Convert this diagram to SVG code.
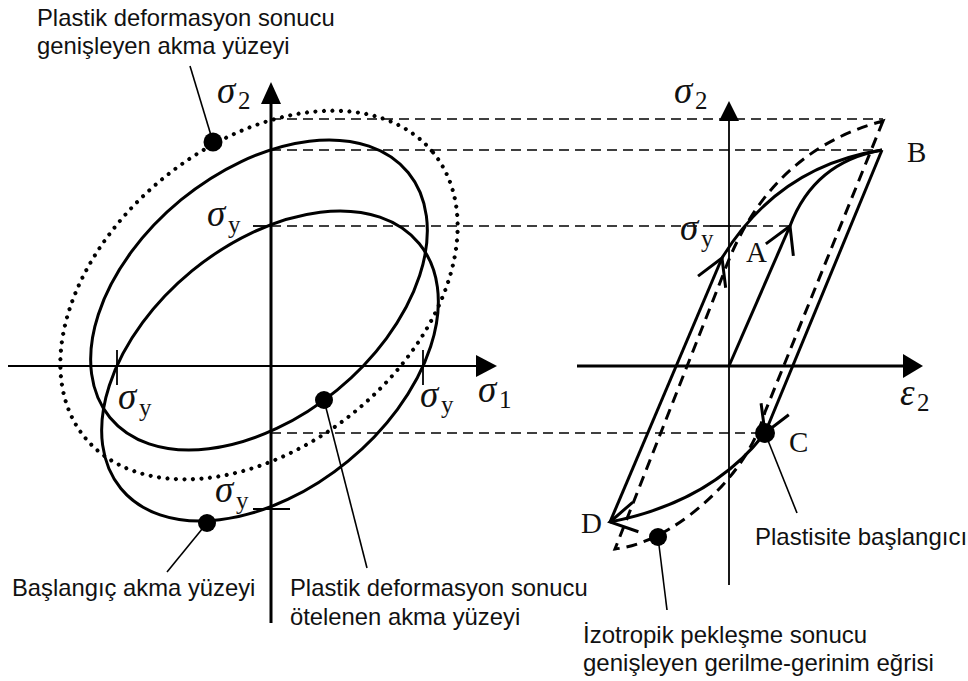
<svg xmlns="http://www.w3.org/2000/svg" width="968" height="681" viewBox="0 0 968 681">
<defs>
<style>
.lab{font-family:"Liberation Sans",Arial,sans-serif;font-size:23.8px;fill:#111}
.labr{font-family:"Liberation Sans",Arial,sans-serif;font-size:24px;fill:#111}
.sym{font-family:"Liberation Serif","Times New Roman",serif;fill:#111}
.gr{font-style:italic;font-size:37px}
.sub{font-size:25px}
.pt{font-size:29px}
.sol{stroke:#000;stroke-width:3;fill:none}
.thin{stroke:#000;stroke-width:1.8;fill:none}
.dash{stroke:#000;stroke-width:1.6;fill:none;stroke-dasharray:10 6}
.dashb{stroke:#000;stroke-width:3;fill:none;stroke-dasharray:11 7}
.dotl{stroke:#000;stroke-width:4;fill:none;stroke-dasharray:0 8.5;stroke-linecap:round}
.lead{stroke:#000;stroke-width:1.6;fill:none}
.arr{fill:#000}
.pnt{fill:#000}
.arrow{marker-end:url(#chev)}
</style>
<marker id="chev" markerUnits="userSpaceOnUse" viewBox="-30 -18 32 36" markerWidth="32" markerHeight="36" refX="0" refY="0" orient="auto" overflow="visible">
<path d="M-26,-15 L0,0 L-26,15" fill="none" stroke="#000" stroke-width="3"/>
</marker>
</defs>
<rect width="968" height="681" fill="#fff"/>

<g id="projection-lines">
<line class="dash" x1="271" y1="119" x2="883" y2="119"/>
<line class="dash" x1="271" y1="150" x2="882" y2="150"/>
<line class="dash" x1="271" y1="226" x2="710" y2="226"/>
<line class="dash" x1="731" y1="226" x2="790" y2="226"/>
<line class="dash" x1="271" y1="433" x2="763" y2="433"/>
</g>

<g id="left-axes">
<line class="thin" x1="8" y1="366" x2="480" y2="366"/>
<polygon class="arr" points="476,355 497,366 476,377"/>
<line class="sol" x1="271" y1="623" x2="271" y2="100"/>
<polygon class="arr" points="261,104 271,82 281,104"/>
<line class="thin" x1="117" y1="350" x2="117" y2="385"/>
<line class="thin" x1="423" y1="350" x2="423" y2="385"/>
<line class="thin" x1="253" y1="226" x2="271" y2="226"/>
<line class="thin" x1="253" y1="509" x2="290" y2="509"/>
</g>

<g id="initial-yield-surface">
<ellipse class="sol" cx="0" cy="0" rx="193" ry="123" transform="translate(270 366) rotate(-39.4)"/>
<circle class="pnt" cx="207" cy="523" r="9"/>
</g>
<g id="translated-yield-surface">
<ellipse class="sol" cx="0" cy="0" rx="193" ry="123" transform="translate(259 295) rotate(-39.4)"/>
<circle class="pnt" cx="324" cy="400" r="9"/>
</g>
<g id="expanded-yield-surface">
<ellipse class="dotl" cx="0" cy="0" rx="225" ry="151" transform="translate(259 295) rotate(-39.3)"/>
<circle class="pnt" cx="213" cy="142" r="9.5"/>
</g>

<g id="left-symbols" class="sym">
<text><tspan class="gr" x="217" y="103">σ</tspan><tspan class="sub" x="238" y="109">2</tspan></text>
<text><tspan class="gr" x="207" y="226">σ</tspan><tspan class="sub" x="228" y="233">y</tspan></text>
<text><tspan class="gr" x="118" y="409">σ</tspan><tspan class="sub" x="139" y="416">y</tspan></text>
<text><tspan class="gr" x="420" y="407">σ</tspan><tspan class="sub" x="441" y="413">y</tspan></text>
<text><tspan class="gr" x="215" y="502">σ</tspan><tspan class="sub" x="236" y="509">y</tspan></text>
<text><tspan class="gr" x="478" y="402">σ</tspan><tspan class="sub" x="499" y="408">1</tspan></text>
</g>

<g id="right-axes">
<line class="sol" x1="577" y1="366" x2="905" y2="366" stroke-width="2.5"/>
<polygon class="arr" points="903,354 923,366 903,378"/>
<line class="thin" x1="729" y1="585" x2="729" y2="118"/>
<polygon class="arr" points="719,121 729,101 739,121"/>
<line class="thin" x1="710" y1="226" x2="731" y2="226"/>
</g>

<g id="expanded-curve">
<path class="dashb" d="M883,121 L765,412 Q748,470 690,515 Q650,545 615,549 L723,275 Q767,152 883,121 Z"/>
<circle class="pnt" cx="658" cy="537" r="9"/>
</g>

<g id="stress-strain-loop">
<path class="sol arrow" d="M729,366 L790,226"/>
<path class="sol" d="M790,226 Q814,162 882,150"/>
<path class="sol arrow" d="M882,150 L765,433"/>
<path class="sol arrow" d="M765,433 Q712,502 610,522"/>
<path class="sol arrow" d="M610,522 L722,258"/>
<path class="sol" d="M722,258 Q778,166 882,150"/>
<circle class="pnt" cx="765" cy="433" r="10"/>
</g>

<g id="right-symbols" class="sym">
<text><tspan class="gr" x="674" y="103">σ</tspan><tspan class="sub" x="695" y="109">2</tspan></text>
<text><tspan class="gr" x="680" y="240">σ</tspan><tspan class="sub" x="701" y="247">y</tspan></text>
<text><tspan class="gr" x="900" y="405" font-style="normal" font-size="34px">ε</tspan><tspan class="sub" x="917" y="411">2</tspan></text>
<text class="pt" x="907" y="162">B</text>
<text class="pt" x="746" y="262">A</text>
<text class="pt" x="789" y="452">C</text>
<text class="pt" x="581" y="533">D</text>
</g>

<g id="connectors">
<line class="lead" x1="213" y1="142" x2="190" y2="66"/>
<line class="lead" x1="207" y1="523" x2="167" y2="572"/>
<line class="lead" x1="324" y1="400" x2="367" y2="568"/>
<line class="lead" x1="765" y1="433" x2="797" y2="513"/>
<line class="lead" x1="658" y1="537" x2="667" y2="610"/>
</g>

<g id="label-expanded-surface" class="lab">
<text x="37" y="26">Plastik deformasyon sonucu</text>
<text x="37" y="54">genişleyen akma yüzeyi</text>
</g>
<g id="label-initial-surface" class="lab">
<text x="12" y="596">Başlangıç akma yüzeyi</text>
</g>
<g id="label-translated-surface" class="lab">
<text x="290" y="596">Plastik deformasyon sonucu</text>
<text x="290" y="625">ötelenen akma yüzeyi</text>
</g>
<g id="label-plasticity-start" class="labr">
<text x="755" y="545">Plastisite başlangıcı</text>
</g>
<g id="label-isotropic" class="labr">
<text x="583" y="643">İzotropik pekleşme sonucu</text>
<text x="583" y="671">genişleyen gerilme-gerinim eğrisi</text>
</g>
</svg>
